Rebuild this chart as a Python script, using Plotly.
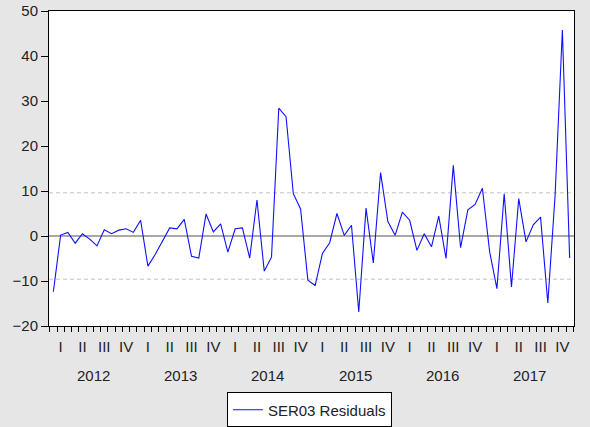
import plotly.graph_objects as go

# Monthly residuals, 2012M01 - 2017M12
years = [2012, 2013, 2014, 2015, 2016, 2017]
quarter_labels = ["I", "II", "III", "IV"]
residuals = [
    -12.4, 0.2, 0.8, -1.6, 0.5, -0.7, -2.2, 1.4, 0.5, 1.3, 1.6, 0.8,      # 2012
    3.5, -6.7, -4.1, -1.3, 1.8, 1.6, 3.7, -4.5, -4.9, 4.9, 0.9, 2.7,      # 2013
    -3.6, 1.6, 1.8, -4.9, 8.0, -7.8, -4.7, 28.4, 26.5, 9.4, 6.0, -9.8,    # 2014
    -11.0, -3.9, -1.5, 5.0, 0.15, 2.4, -16.9, 6.2, -6.0, 14.1, 3.2, 0.15, # 2015
    5.3, 3.5, -3.2, 0.5, -2.4, 4.4, -5.0, 15.7, -2.6, 5.8, 7.0, 10.6,     # 2016
    -3.5, -11.7, 9.4, -11.3, 8.3, -1.3, 2.5, 4.2, -14.9, 9.0, 45.8, -4.9, # 2017
]
se_band = 9.6
y_ticks = [-20, -10, 0, 10, 20, 30, 40, 50]

n = len(residuals)
x_idx = list(range(n))
font = "Liberation Sans, Arial, sans-serif"

fig = go.Figure()
fig.add_trace(go.Scatter(
    x=x_idx, y=residuals, mode="lines", name="SER03 Residuals",
    line=dict(color="#1010ff", width=1.1),
))

# zero line and +-band dashed lines
fig.add_hline(y=0, line=dict(color="#a8a8a8", width=2), layer="below")
for v in (se_band, -se_band):
    fig.add_hline(y=v, line=dict(color="#c4c4c4", width=1, dash="4px,3px"), layer="below")

q_vals = []
q_text = []
for yi in range(len(years)):
    for qi, ql in enumerate(quarter_labels):
        q_vals.append(yi * 12 + qi * 3 + 1)
        q_text.append(ql)

for yi, yr in enumerate(years):
    fig.add_annotation(
        x=yi * 12 + 5.5, y=-0.156, xref="x", yref="paper", text=str(yr),
        showarrow=False, font=dict(family=font, size=15, color="#222"),
        yanchor="middle",
    )

fig.update_layout(
    width=590, height=427,
    margin=dict(l=49, r=16, t=11, b=101, autoexpand=False),
    paper_bgcolor="#e6e6e6", plot_bgcolor="white",
    showlegend=True,
    legend=dict(
        orientation="h", x=0.496, xanchor="center", y=-0.211, yanchor="top",
        bgcolor="white", bordercolor="black", borderwidth=1,
        font=dict(family=font, size=15, color="#222"),
        itemwidth=30,
    ),
    xaxis=dict(
        range=[-0.6, n - 0.4], showgrid=False, zeroline=False,
        showline=True, linecolor="black", linewidth=1, mirror=True,
        tickmode="array", tickvals=q_vals, ticktext=q_text,
        ticks="", ticklabelstandoff=7,
        tickfont=dict(family=font, size=15, color="#222"),
        minor=dict(tickmode="array", tickvals=[i - 0.5 for i in range(n + 1)],
                   ticks="outside", ticklen=5, tickcolor="black", showgrid=False),
    ),
    yaxis=dict(
        range=[-20, 50], tickvals=y_ticks, showgrid=False, zeroline=False,
        showline=True, linecolor="black", linewidth=1, mirror=True,
        ticks="outside", ticklen=7, tickcolor="black",
        tickfont=dict(family=font, size=15, color="#222"),
    ),
)

fig.write_html(
    "out.html",
    config={"displayModeBar": False},
    post_script="document.body.style.margin='0';document.body.style.background='#e6e6e6';",
)
